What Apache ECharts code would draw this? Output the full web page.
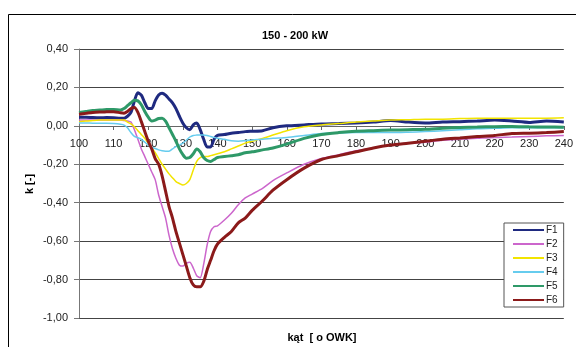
<!DOCTYPE html>
<html>
<head>
<meta charset="utf-8">
<script src="https://cdn.jsdelivr.net/npm/echarts@6/dist/echarts.min.js"></script>
<style>
  html, body { margin: 0; padding: 0; background: #fff; }
  #chart { width: 576px; height: 347px; }
</style>
</head>
<body>
<div id="chart"></div>
<script>
var angles = [100,102,104,106,108,110,112,113,114,115,116,117,118,119,120,121,122,123,124,125,126,127,128,129,130,
              131,132,133,134,135,136,137,138,139,140,142,144,146,148,150,153,156,160,165,170,175,180,185,190,195,
              200,205,210,215,220,225,230,235,240];

var F1 = [0.045,0.045,0.043,0.042,0.043,0.042,0.040,0.040,0.050,0.070,0.130,0.172,0.160,0.120,0.090,0.090,0.130,0.160,0.170,0.160,
          0.140,0.120,0.090,0.050,0.014,-0.010,-0.020,0.005,0.015,-0.020,-0.070,-0.110,-0.110,-0.070,-0.050,-0.045,-0.038,-0.035,-0.030,-0.028,
          -0.025,-0.010,0.000,0.005,0.010,0.012,0.015,0.020,0.028,0.020,0.015,0.020,0.022,0.025,0.030,0.025,0.018,0.025,0.020];
var F2 = [0.030,0.030,0.030,0.030,0.030,0.030,0.030,0.028,0.025,0.020,-0.020,-0.070,-0.120,-0.160,-0.200,-0.240,-0.280,-0.360,-0.420,-0.480,
          -0.570,-0.640,-0.690,-0.725,-0.730,-0.715,-0.710,-0.740,-0.780,-0.790,-0.720,-0.620,-0.550,-0.525,-0.520,-0.490,-0.455,-0.410,-0.375,-0.355,
          -0.325,-0.285,-0.245,-0.200,-0.170,-0.150,-0.130,-0.115,-0.100,-0.090,-0.085,-0.075,-0.070,-0.065,-0.060,-0.058,-0.055,-0.052,-0.050];
var F3 = [0.022,0.025,0.028,0.030,0.030,0.030,0.030,0.030,0.020,0.010,-0.005,-0.025,-0.045,-0.065,-0.090,-0.115,-0.140,-0.170,-0.200,-0.225,
          -0.250,-0.270,-0.290,-0.300,-0.308,-0.300,-0.280,-0.230,-0.185,-0.165,-0.160,-0.160,-0.155,-0.150,-0.145,-0.135,-0.120,-0.105,-0.090,-0.080,
          -0.065,-0.048,-0.025,-0.005,0.005,0.012,0.020,0.025,0.030,0.032,0.035,0.035,0.038,0.040,0.040,0.040,0.040,0.040,0.042];
var F4 = [0.015,0.015,0.014,0.014,0.014,0.012,0.008,0.004,-0.010,-0.035,-0.055,-0.062,-0.070,-0.085,-0.100,-0.110,-0.118,-0.125,-0.130,-0.132,
          -0.132,-0.120,-0.108,-0.100,-0.090,-0.075,-0.058,-0.050,-0.048,-0.047,-0.047,-0.050,-0.055,-0.060,-0.064,-0.070,-0.078,-0.080,-0.077,-0.073,
          -0.070,-0.065,-0.060,-0.050,-0.040,-0.037,-0.035,-0.035,-0.035,-0.033,-0.030,-0.025,-0.020,-0.015,-0.013,-0.010,-0.010,-0.010,-0.010];
var F5 = [0.070,0.075,0.080,0.082,0.085,0.085,0.083,0.090,0.105,0.120,0.133,0.130,0.110,0.075,0.045,0.025,0.030,0.038,0.040,0.025,
          -0.010,-0.045,-0.080,-0.120,-0.150,-0.168,-0.165,-0.145,-0.120,-0.135,-0.165,-0.180,-0.185,-0.175,-0.165,-0.160,-0.155,-0.150,-0.140,-0.135,
          -0.125,-0.115,-0.095,-0.065,-0.045,-0.035,-0.028,-0.025,-0.022,-0.020,-0.018,-0.012,-0.008,-0.006,-0.004,-0.003,-0.005,-0.006,-0.007];
var F6 = [0.060,0.065,0.070,0.072,0.073,0.074,0.068,0.066,0.075,0.090,0.095,0.070,0.022,-0.030,-0.080,-0.120,-0.170,-0.200,-0.260,-0.340,
          -0.420,-0.480,-0.550,-0.610,-0.670,-0.730,-0.790,-0.828,-0.838,-0.838,-0.810,-0.750,-0.700,-0.650,-0.615,-0.580,-0.550,-0.505,-0.480,-0.440,
          -0.390,-0.335,-0.280,-0.220,-0.175,-0.155,-0.135,-0.115,-0.100,-0.090,-0.080,-0.070,-0.063,-0.056,-0.050,-0.040,-0.038,-0.035,-0.030];

var names = ['F1','F2','F3','F4','F5','F6'];
var values = [F1, F2, F3, F4, F5, F6];
var colors = ['#1f2a80','#cc66cc','#f2e400','#66ccee','#2e9968','#8b1a1a'];
var widths = [3, 1.5, 1.5, 1.5, 3, 3];

function pairs(ys){
  var out = [];
  for (var i = 0; i < angles.length; i++) out.push([angles[i], ys[i]]);
  return out;
}

var series = [];
for (var s = 0; s < names.length; s++) {
  series.push({
    name: names[s],
    type: 'line',
    symbol: 'none',
    smooth: 0.25,
    data: pairs(values[s]),
    lineStyle: { color: colors[s], width: widths[s] },
    itemStyle: { color: colors[s] }
  });
}

var el = echarts.init(document.getElementById('chart'));
el.setOption({
  animation: false,
  title: {
    text: '150 - 200 kW',
    left: 290, top: 25, textAlign: 'center',
    textStyle: { fontFamily: 'Liberation Sans, Arial', fontSize: 11, fontWeight: 'bold', color: '#000' }
  },
  grid: { left: 79, right: 11, top: 49, bottom: 29 },
  legend: {
    data: names,
    orient: 'vertical',
    left: 504, top: 223,
    itemWidth: 31, itemHeight: 12, itemGap: 4,
    padding: [2, 6, 2, 8],
    backgroundColor: '#fff',
    borderColor: '#555', borderWidth: 1,
    itemStyle: { opacity: 0 },
    textStyle: { fontFamily: 'Liberation Sans, Arial', fontSize: 10, color: '#222', padding: [0, 0, 0, -3] }
  },
  xAxis: {
    type: 'value', min: 100, max: 240, interval: 10,
    offset: -192,
    axisLine: { onZero: false, lineStyle: { color: '#666' } },
    axisTick: { length: 4, lineStyle: { color: '#666' } },
    axisLabel: { margin: 12, fontFamily: 'Liberation Sans, Arial', fontSize: 11, color: '#222' },
    splitLine: { show: false }
  },
  yAxis: {
    type: 'value', min: -1, max: 0.4, interval: 0.2,
    axisLine: { show: true, lineStyle: { color: '#777' } },
    axisTick: { show: true, length: 5, lineStyle: { color: '#777' } },
    axisLabel: {
      margin: 11, fontFamily: 'Liberation Sans, Arial', fontSize: 11, color: '#222',
      formatter: function(v){ return (Math.round(v * 100) / 100 + 0).toFixed(2).replace('.', ','); }
    },
    splitLine: { lineStyle: { color: '#444', width: 1 } }
  },
  graphic: [
    { type: 'rect', shape: { x: 8.5, y: 14.5, width: 600, height: 400 }, style: { fill: 'none', stroke: '#000', lineWidth: 1 }, silent: true, z: -1 },
    { type: 'text', x: 30, y: 184, rotation: Math.PI / 2,
      style: { text: 'k [-]', fontFamily: 'Liberation Sans, Arial', fontSize: 11, fontWeight: 'bold', fill: '#000', textAlign: 'center', textVerticalAlign: 'middle' } },
    { type: 'text', x: 322, y: 338,
      style: { text: 'kąt  [ o OWK]', fontFamily: 'Liberation Sans, Arial', fontSize: 11, fontWeight: 'bold', fill: '#000', textAlign: 'center', textVerticalAlign: 'middle' } }
  ],
  series: series
});
</script>
</body>
</html>
